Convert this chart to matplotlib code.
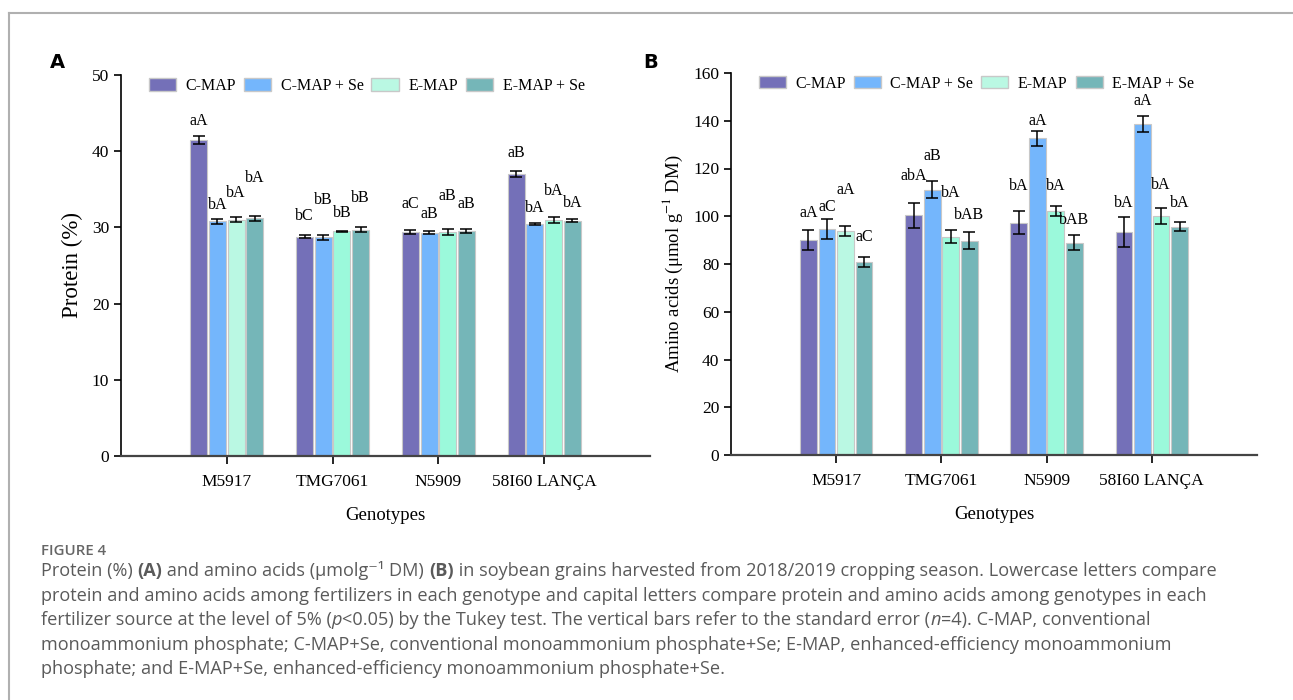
import numpy as np
import matplotlib
matplotlib.use('Agg')
import matplotlib.pyplot as plt
from matplotlib.patches import Patch

plt.rcParams['font.family'] = ['Liberation Serif', 'DejaVu Serif']
plt.rcParams['mathtext.fontset'] = 'stix'

# data
genotypes = ['M5917', 'TMG7061', 'N5909', '58I60 LANÇA']
treatments = ['C-MAP', 'C-MAP + Se', 'E-MAP', 'E-MAP + Se']

protein = [[41.5, 30.8, 31.0, 31.2],
           [28.8, 28.7, 29.5, 29.7],
           [29.4, 29.3, 29.4, 29.5],
           [37.0, 30.5, 31.0, 30.9]]
protein_err = [[0.5, 0.35, 0.35, 0.35],
               [0.25, 0.35, 0.08, 0.35],
               [0.25, 0.2, 0.4, 0.3],
               [0.45, 0.12, 0.4, 0.15]]
protein_letters = [['aA', 'bA', 'bA', 'bA'],
                   ['bC', 'bB', 'bB', 'bB'],
                   ['aC', 'aB', 'aB', 'aB'],
                   ['aB', 'bA', 'bA', 'bA']]
protein_letter_y = [[43.9, 33.0, 34.5, 36.5],
                    [31.5, 33.6, 31.9, 33.8],
                    [33.1, 31.7, 34.1, 33.1],
                    [39.8, 32.5, 34.8, 33.2]]

amino = [[90.1, 94.7, 93.8, 80.8],
         [100.4, 111.2, 91.5, 89.8],
         [97.3, 132.6, 102.1, 89.0],
         [93.3, 138.7, 100.1, 95.7]]
amino_err = [[4.1, 4.2, 2.2, 2.1],
             [5.3, 3.7, 2.7, 3.7],
             [4.8, 3.2, 2.2, 3.2],
             [6.3, 3.3, 3.4, 1.9]]
amino_letters = [['aA', 'aC', 'aA', 'aC'],
                 ['abA', 'aB', 'bA', 'bAB'],
                 ['bA', 'aA', 'bA', 'bAB'],
                 ['bA', 'aA', 'bA', 'bA']]
amino_letter_y = [[101.4, 103.8, 111.2, 91.3],
                  [116.8, 125.2, 109.8, 100.7],
                  [112.6, 140.1, 112.6, 98.6],
                  [105.6, 148.3, 112.9, 105.6]]

colors = ['#7470B8', '#74B6FC', '#9BF9DB', '#75B6B8']
light_mint = '#BAF8E3'

fig = plt.figure(figsize=(12.93, 7.0), dpi=100)

# light frame (top and left)
fig.add_artist(plt.Line2D([9/1293, 1], [1 - 13/700, 1 - 13/700], color='#b0b0b0', lw=1.5))
fig.add_artist(plt.Line2D([9/1293, 9/1293], [0, 1 - 13/700], color='#b0b0b0', lw=1.5))


def draw_panel(ax, values, errs, letters, letter_y, ymax, step, ylabel, ylabel_size):
    x = np.arange(1, len(genotypes) + 1)
    offsets = [-0.265, -0.088, 0.088, 0.265]
    vals = np.array(values)
    er = np.array(errs)
    for j in range(len(treatments)):
        cols = [colors[j]] * len(genotypes)
        if j == 2:
            cols[0] = light_mint
        ax.bar(x + offsets[j], vals[:, j], width=0.16, color=cols,
               edgecolor='#c8c8c8', linewidth=0.8, zorder=2)
        ax.errorbar(x + offsets[j], vals[:, j], yerr=er[:, j], fmt='none',
                    ecolor='black', elinewidth=1.1, capsize=4, capthick=1.1, zorder=3)
        for i in range(len(genotypes)):
            ax.text(x[i] + offsets[j], letter_y[i][j], letters[i][j],
                    ha='center', va='center', fontsize=11.5)
    ax.set_xlim(0, 5)
    ax.set_ylim(0, ymax)
    ax.set_yticks(np.arange(0, ymax + 1, step))
    ax.set_xticks(x)
    ax.set_xticklabels(genotypes, fontsize=12.5)
    ax.tick_params(axis='y', labelsize=12.5, direction='out', length=5, width=1.2)
    ax.tick_params(axis='x', direction='out', length=6, width=1.2, pad=7)
    ax.spines['top'].set_visible(False)
    ax.spines['right'].set_visible(False)
    ax.spines['left'].set_linewidth(1.2)
    ax.spines['bottom'].set_linewidth(1.6)
    ax.spines['bottom'].set_color('#444444')
    ax.set_xlabel('Genotypes', fontsize=13.5, labelpad=12)
    ax.set_ylabel(ylabel, fontsize=ylabel_size, labelpad=6)
    handles = [Patch(facecolor=light_mint if j == 2 else colors[j], edgecolor='#c8c8c8')
               for j in range(len(treatments))]
    ax.legend(handles, treatments, loc='upper left', bbox_to_anchor=(0.025, 1.03),
              ncol=4, frameon=False, fontsize=11.5, handlelength=1.7, handleheight=0.8,
              handletextpad=0.6, columnspacing=0.5)


axA = fig.add_axes([121/1293, 244/700, 529/1293, 381/700])
draw_panel(axA, protein, protein_err, protein_letters, protein_letter_y, 50, 10,
           'Protein (%)', 16.5)

axB = fig.add_axes([731/1293, 245/700, 526/1293, 382/700])
draw_panel(axB, amino, amino_err, amino_letters, amino_letter_y, 160, 20,
           'Amino acids (μmol g$^{-1}$ DM)', 13.5)

fig.text(57/1293, 1 - 62/700, 'A', fontsize=14, fontweight='bold', family='DejaVu Sans',
         ha='center', va='center')
fig.text(651/1293, 1 - 62/700, 'B', fontsize=14, fontweight='bold', family='DejaVu Sans',
         ha='center', va='center')

# caption
cap_font = ['Open Sans', 'DejaVu Sans']
cap_color = '#5a5a5a'
fig.text(41/1293, 1 - 551/700, 'FIGURE 4', fontsize=10.8, color='#666666',
         family=cap_font, fontweight='semibold', va='center')

caption_lines = [
    [('Protein (%) ', 'normal', 'normal'), ('(A)', 'bold', 'normal'),
     (' and amino acids (μmolg⁻¹ DM) ', 'normal', 'normal'), ('(B)', 'bold', 'normal'),
     (' in soybean grains harvested from 2018/2019 cropping season. Lowercase letters compare', 'normal', 'normal')],
    [('protein and amino acids among fertilizers in each genotype and capital letters compare protein and amino acids among genotypes in each', 'normal', 'normal')],
    [('fertilizer source at the level of 5% (', 'normal', 'normal'), ('p', 'normal', 'italic'),
     ('<0.05) by the Tukey test. The vertical bars refer to the standard error (', 'normal', 'normal'),
     ('n', 'normal', 'italic'), ('=4). C-MAP, conventional', 'normal', 'normal')],
    [('monoammonium phosphate; C-MAP+Se, conventional monoammonium phosphate+Se; E-MAP, enhanced-efficiency monoammonium', 'normal', 'normal')],
    [('phosphate; and E-MAP+Se, enhanced-efficiency monoammonium phosphate+Se.', 'normal', 'normal')],
]
line_y = [571, 596, 620, 645, 669]

renderer = fig.canvas.get_renderer()
for segs, yy in zip(caption_lines, line_y):
    xpos = 41
    for txt, weight, style in segs:
        t = fig.text(xpos/1293, 1 - yy/700, txt, fontsize=13.1, color=cap_color,
                     family=cap_font, fontweight=weight, fontstyle=style, va='center')
        bb = t.get_window_extent(renderer=renderer)
        xpos += bb.width

fig.savefig('out.png', dpi=100)
